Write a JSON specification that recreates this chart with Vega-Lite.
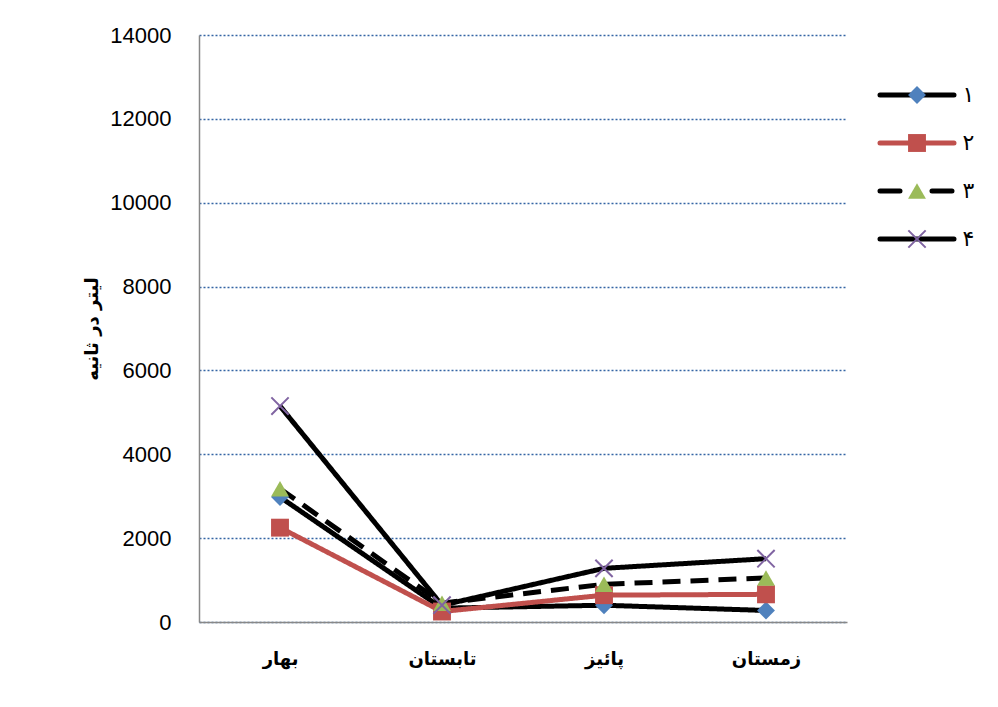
{
  "$schema": "https://vega.github.io/schema/vega-lite/v6.json",
  "background": "white",
  "padding": {"top": 24, "left": 83, "right": 10, "bottom": 10},
  "config": {"view": {"stroke": null}, "font": "Liberation Sans"},
  "datasets": {
    "flow": [
      {"season": "بهار", "series": "۱", "value": 2980},
      {"season": "تابستان", "series": "۱", "value": 330},
      {"season": "پائیز", "series": "۱", "value": 400},
      {"season": "زمستان", "series": "۱", "value": 275},
      {"season": "بهار", "series": "۲", "value": 2250},
      {"season": "تابستان", "series": "۲", "value": 250},
      {"season": "پائیز", "series": "۲", "value": 640},
      {"season": "زمستان", "series": "۲", "value": 660},
      {"season": "بهار", "series": "۳", "value": 3180},
      {"season": "تابستان", "series": "۳", "value": 450},
      {"season": "پائیز", "series": "۳", "value": 900},
      {"season": "زمستان", "series": "۳", "value": 1050},
      {"season": "بهار", "series": "۴", "value": 5150},
      {"season": "تابستان", "series": "۴", "value": 400},
      {"season": "پائیز", "series": "۴", "value": 1280},
      {"season": "زمستان", "series": "۴", "value": 1510}
    ],
    "legend": [
      {"series": "۱"}, {"series": "۲"}, {"series": "۳"}, {"series": "۴"}
    ]
  },
  "resolve": {"scale": {"color": "independent", "stroke": "independent", "fill": "independent", "shape": "independent", "strokeDash": "independent", "y": "independent", "x": "independent"}},
  "hconcat": [
    {
      "width": 648,
      "height": 587,
      "data": {"name": "flow"},
      "encoding": {
        "x": {
          "field": "season", "type": "nominal",
          "sort": ["بهار", "تابستان", "پائیز", "زمستان"],
          "axis": {
            "title": null, "labelAngle": 0, "ticks": false,
            "domainColor": "#888888", "domainWidth": 1.5,
            "labelFont": "DejaVu Sans", "labelFontWeight": "bold", "labelFontSize": 18,
            "labelPadding": 28, "labelColor": "black", "grid": false
          }
        },
        "y": {
          "field": "value", "type": "quantitative",
          "scale": {"domain": [0, 14000], "nice": false},
          "axis": {
            "values": [0, 2000, 4000, 6000, 8000, 10000, 12000, 14000],
            "format": "d",
            "title": "لیتر در ثانیه",
            "titleFont": "DejaVu Sans", "titleFontWeight": "bold", "titleFontSize": 18,
            "titlePadding": 8, "titleColor": "black",
            "labelFontSize": 22, "labelColor": "black", "labelPadding": 28,
            "domain": true, "domainColor": "#888888", "domainWidth": 1.5, "ticks": false,
            "grid": true, "gridColor": "#3465A4", "gridDash": [2, 2], "gridWidth": 1.5
          }
        }
      },
      "layer": [
        {
          "mark": {"type": "line", "strokeWidth": 5, "strokeJoin": "round"},
          "encoding": {
            "detail": {"field": "series"},
            "stroke": {
              "field": "series", "type": "nominal", "legend": null,
              "scale": {"domain": ["۱", "۲", "۳", "۴"], "range": ["#000000", "#C0504D", "#000000", "#000000"]}
            },
            "strokeDash": {
              "field": "series", "type": "nominal", "legend": null,
              "scale": {"domain": ["۱", "۲", "۳", "۴"], "range": [[1, 0], [1, 0], [18, 10], [1, 0]]}
            },
            "order": {"field": "series"}
          }
        },
        {
          "transform": [{"filter": "datum.series !== '۴'"}],
          "mark": {"type": "point", "filled": true, "opacity": 1, "strokeWidth": 0},
          "encoding": {
            "fill": {
              "field": "series", "type": "nominal", "legend": null,
              "scale": {"domain": ["۱", "۲", "۳"], "range": ["#4F81BD", "#C0504D", "#9BBB59"]}
            },
            "shape": {
              "field": "series", "type": "nominal", "legend": null,
              "scale": {"domain": ["۱", "۲", "۳"], "range": ["diamond", "square", "triangle-up"]}
            },
            "size": {"value": 320}
          }
        },
        {
          "transform": [{"filter": "datum.series === '۴'"}],
          "mark": {"type": "point", "filled": false, "opacity": 1, "stroke": "#8064A2", "strokeWidth": 2,
                   "shape": "M-1,-1L1,1M1,-1L-1,1", "size": 300}
        }
      ]
    },
    {
      "width": 74,
      "height": 264,
      "data": {"name": "legend"},
      "encoding": {
        "y": {
          "field": "series", "type": "nominal",
          "sort": ["۱", "۲", "۳", "۴"],
          "scale": {"type": "band", "paddingInner": 0, "paddingOuter": 0.75},
          "axis": {
            "orient": "right", "title": null, "domain": false, "ticks": false, "grid": false,
            "labelFont": "DejaVu Sans", "labelFontSize": 22, "labelColor": "black", "labelPadding": 8
          }
        }
      },
      "layer": [
        {
          "mark": {"type": "rule", "strokeWidth": 5, "strokeCap": "round"},
          "encoding": {
            "x": {"datum": 0, "type": "quantitative", "scale": {"domain": [0, 1]}, "axis": null},
            "x2": {"datum": 1},
            "stroke": {
              "field": "series", "type": "nominal", "legend": null,
              "scale": {"domain": ["۱", "۲", "۳", "۴"], "range": ["#000000", "#C0504D", "#000000", "#000000"]}
            },
            "strokeDash": {
              "field": "series", "type": "nominal", "legend": null,
              "scale": {"domain": ["۱", "۲", "۳", "۴"], "range": [[1, 0], [1, 0], [20, 32], [1, 0]]}
            }
          }
        },
        {
          "transform": [{"filter": "datum.series !== '۴'"}],
          "mark": {"type": "point", "filled": true, "opacity": 1, "strokeWidth": 0},
          "encoding": {
            "x": {"datum": 0.5, "type": "quantitative"},
            "fill": {
              "field": "series", "type": "nominal", "legend": null,
              "scale": {"domain": ["۱", "۲", "۳"], "range": ["#4F81BD", "#C0504D", "#9BBB59"]}
            },
            "shape": {
              "field": "series", "type": "nominal", "legend": null,
              "scale": {"domain": ["۱", "۲", "۳"], "range": ["diamond", "square", "triangle-up"]}
            },
            "size": {"value": 320}
          }
        },
        {
          "transform": [{"filter": "datum.series === '۴'"}],
          "mark": {"type": "point", "filled": false, "opacity": 1, "stroke": "#8064A2", "strokeWidth": 2,
                   "shape": "M-1,-1L1,1M1,-1L-1,1", "size": 300},
          "encoding": {
            "x": {"datum": 0.5, "type": "quantitative"}
          }
        }
      ]
    }
  ],
  "spacing": 30
}
